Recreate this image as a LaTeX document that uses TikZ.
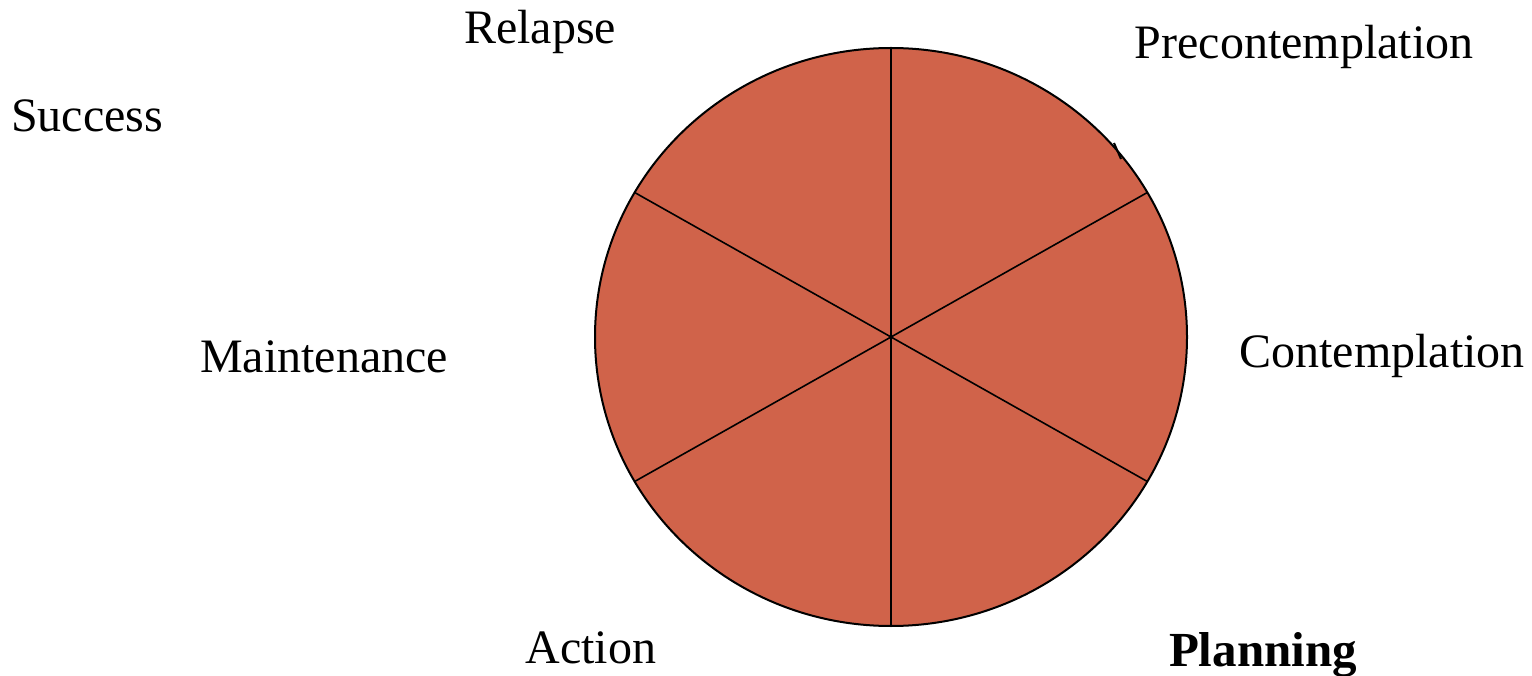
\documentclass[tikz,border=0pt]{standalone}
\usepackage{fontspec}
\usetikzlibrary{calc}
\setmainfont{Liberation Serif}
\definecolor{wedge}{RGB}{208,99,74}
\begin{document}
\begin{tikzpicture}[x=1pt,y=-1pt,
  lbl/.style={anchor=base,inner sep=0pt,font=\fontsize{48}{58}\selectfont},
  spoke/.style={draw=black,line width=1.6pt}]
\useasboundingbox (0,0) rectangle (1532,676);
\coordinate (c) at (891,337);
\fill[wedge,draw=black,line width=2pt] (c) ellipse [x radius=296,y radius=289];
\foreach \a/\n in {90/n,30/ne,-30/se,-90/s,-150/sw,150/nw}{
  \coordinate (\n) at ($(c)+({296*cos(\a)},{-289*sin(\a)})$);
}
\draw[spoke] (n) -- (s);
\draw[spoke] (ne) -- (sw);
\draw[spoke] (nw) -- (se);
\coordinate (t1) at (1114,143);
\coordinate (t2) at (1121,159);
\draw[line width=2pt] (t1) -- (t2);
\node[lbl] (relapse) at (540,44) {Relapse};
\node[lbl] (precon) at (1304,59) {Precontemplation};
\node[lbl] (success) at (87,132) {Success};
\node[lbl] (maint) at (324,373) {Maintenance};
\node[lbl] (contem) at (1382,368) {Contemplation};
\node[lbl] (action) at (591,663) {Action};
\node[lbl,font=\bfseries\fontsize{49}{58}\selectfont] (plan) at (1263,666) {Planning};
\end{tikzpicture}
\end{document}
